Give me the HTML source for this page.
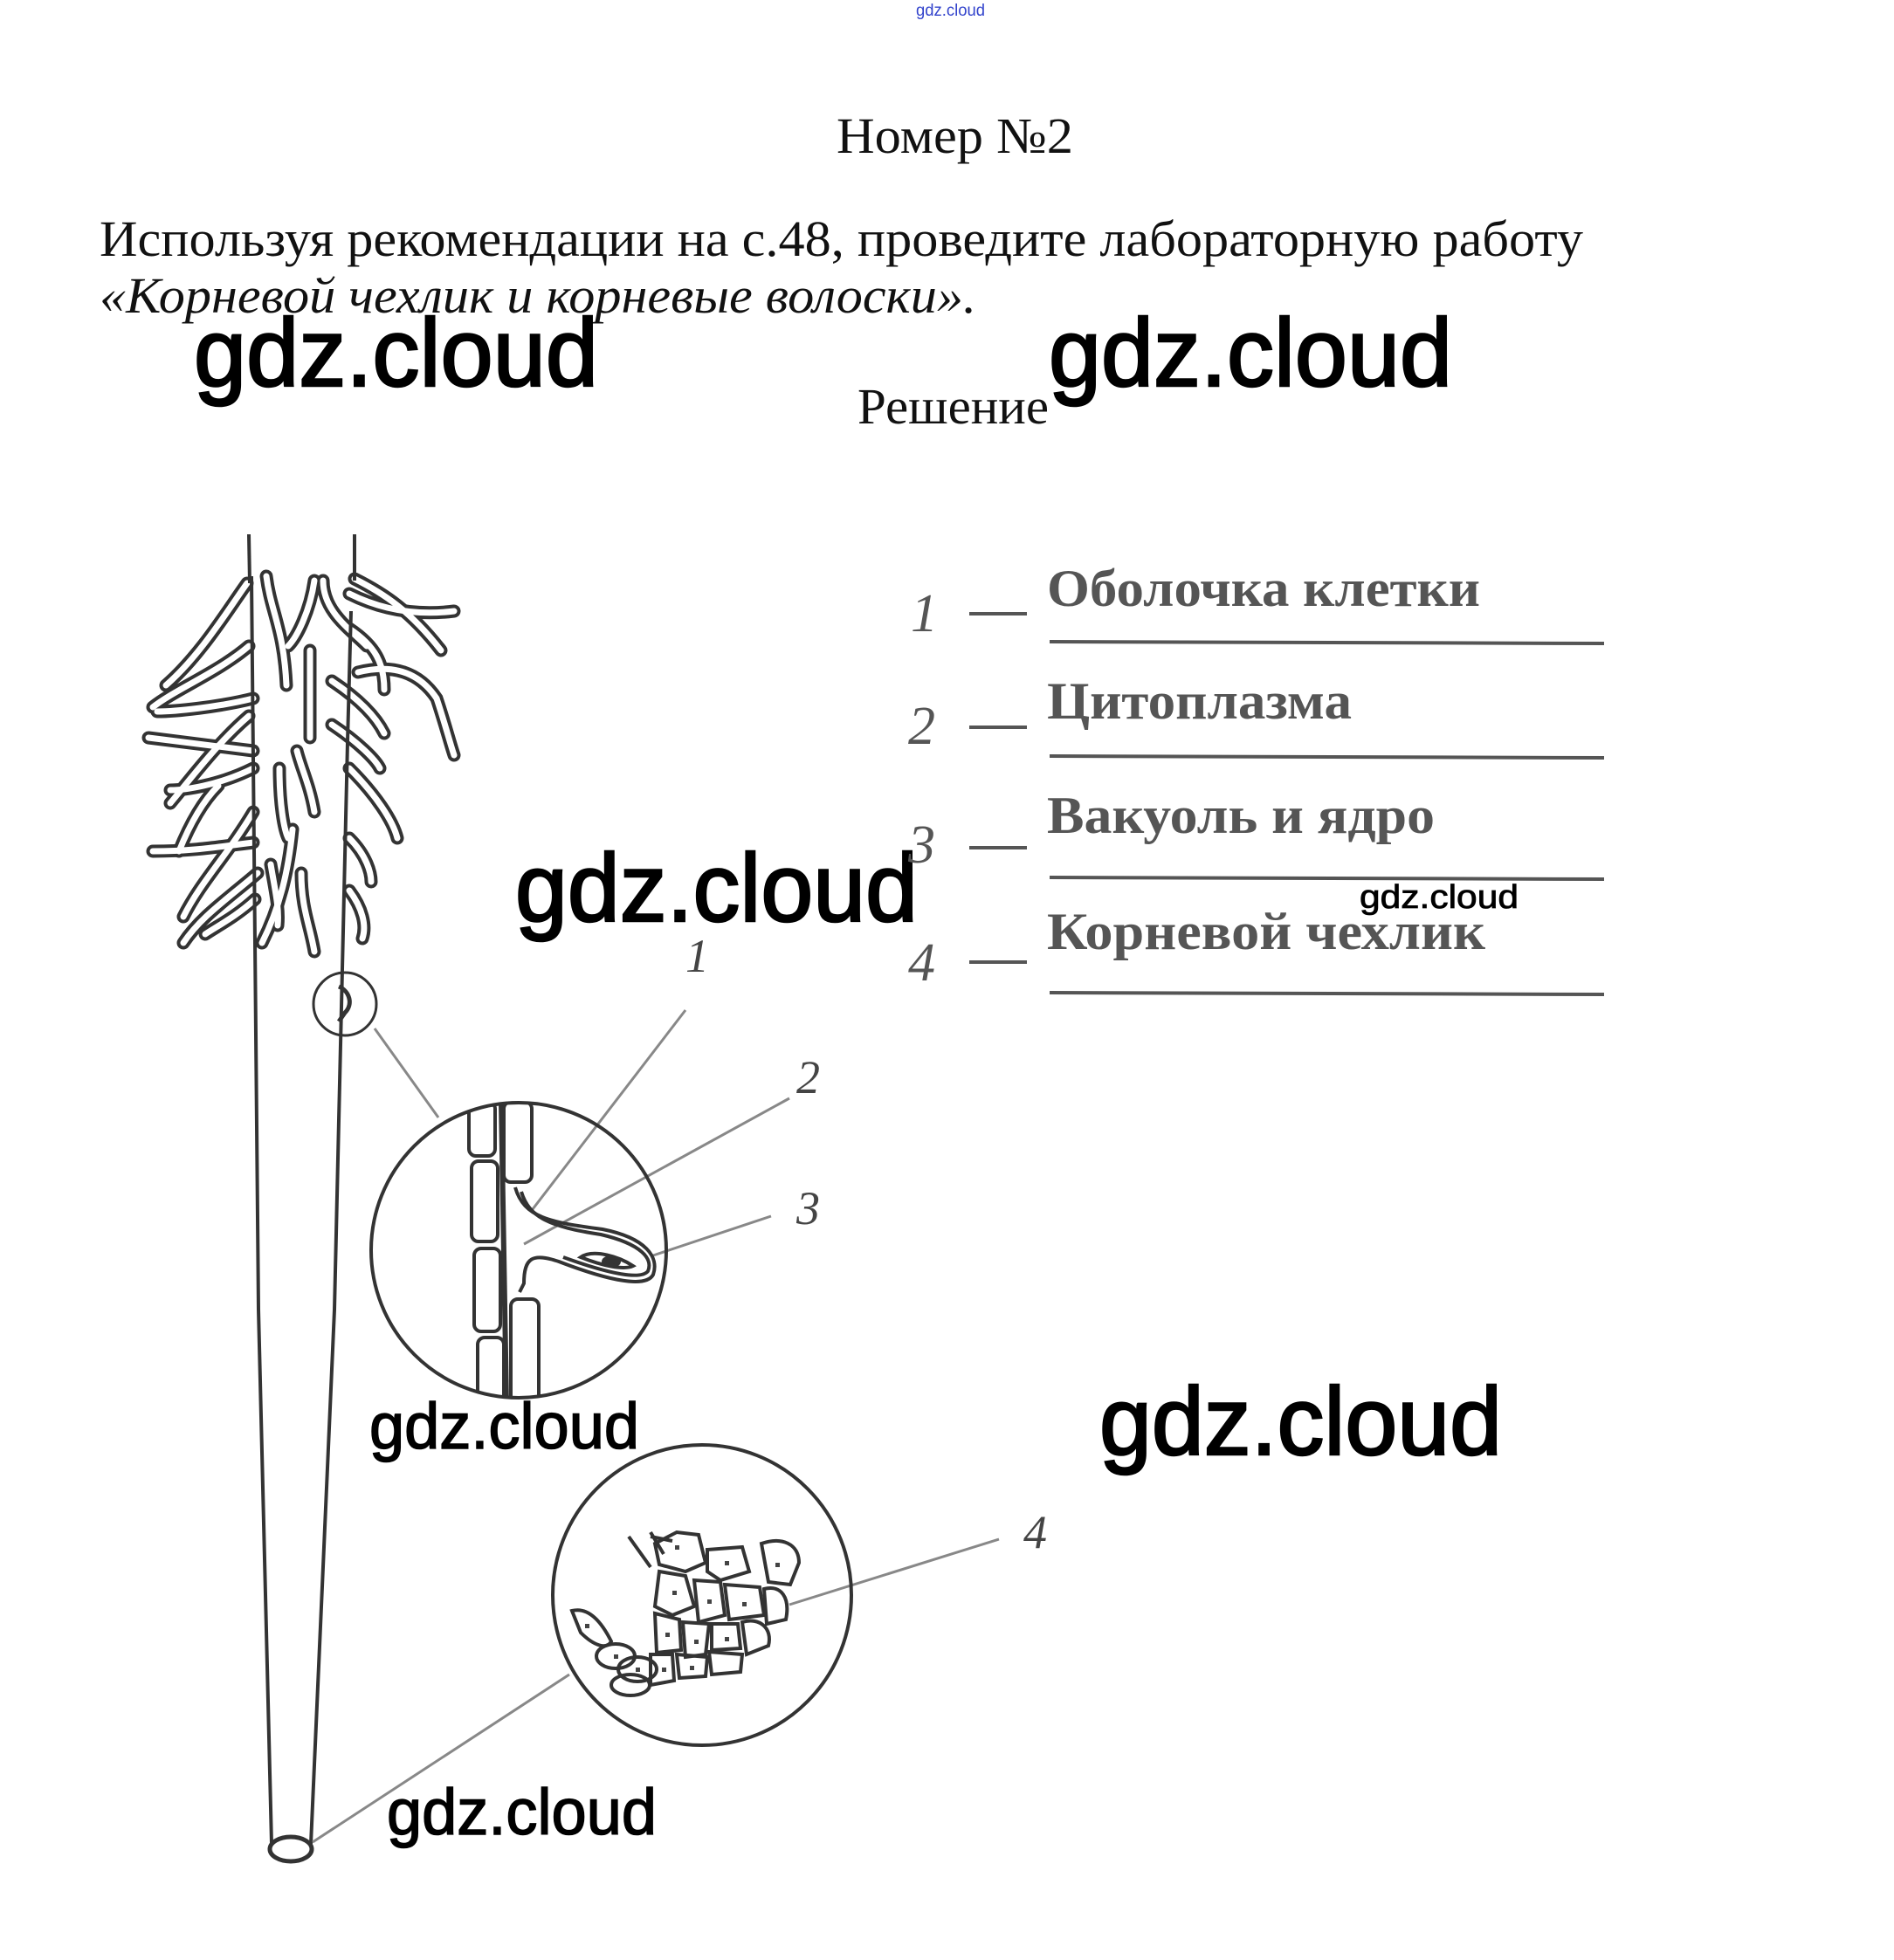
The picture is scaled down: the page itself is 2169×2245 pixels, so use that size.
<!DOCTYPE html>
<html><head><meta charset="utf-8"><style>
html,body{margin:0;padding:0;background:#fff;}
svg{display:block;}
</style></head><body>
<svg width="2169" height="2245" viewBox="0 0 2169 2245" xmlns="http://www.w3.org/2000/svg">
<rect width="2169" height="2245" fill="#fff"/>
<text x="1049" y="18" font-family="Liberation Sans, sans-serif" font-size="19" fill="#3344cc" textLength="79" lengthAdjust="spacingAndGlyphs">gdz.cloud</text>
<text x="958" y="175" font-family="Liberation Serif, serif" font-size="58" fill="#111" textLength="271" lengthAdjust="spacingAndGlyphs">Номер №2</text>
<text x="114" y="293" font-family="Liberation Serif, serif" font-size="58" fill="#111" textLength="1699" lengthAdjust="spacingAndGlyphs">Используя рекомендации на с.48, проведите лабораторную работу</text>
<text x="114" y="358" font-family="Liberation Serif, serif" font-style="italic" font-size="58" fill="#111" textLength="1004" lengthAdjust="spacingAndGlyphs">«Корневой чехлик и корневые волоски».</text>
<text x="982" y="485" font-family="Liberation Serif, serif" font-size="58" fill="#111" textLength="219" lengthAdjust="spacingAndGlyphs">Решение</text>

<g font-family="Liberation Sans, sans-serif" fill="#000" stroke="#000">
<text x="222" y="442" font-size="110" stroke-width="2.5" textLength="463" lengthAdjust="spacingAndGlyphs">gdz.cloud</text>
<text x="1201" y="442" font-size="110" stroke-width="2.5" textLength="462" lengthAdjust="spacingAndGlyphs">gdz.cloud</text>
<text x="590" y="1055" font-size="110" stroke-width="2.5" textLength="461" lengthAdjust="spacingAndGlyphs">gdz.cloud</text>
<text x="1557" y="1040" font-size="38" stroke-width="0.8" textLength="182" lengthAdjust="spacingAndGlyphs">gdz.cloud</text>
<text x="423" y="1659" font-size="74" stroke-width="1.5" textLength="309" lengthAdjust="spacingAndGlyphs">gdz.cloud</text>
<text x="1259" y="1666" font-size="110" stroke-width="2.5" textLength="461" lengthAdjust="spacingAndGlyphs">gdz.cloud</text>
<text x="443" y="2101" font-size="74" stroke-width="1.5" textLength="309" lengthAdjust="spacingAndGlyphs">gdz.cloud</text>
</g>

<g font-family="Liberation Serif, serif" fill="#555">
<text x="1199" y="694" font-size="60" font-weight="bold" textLength="496" lengthAdjust="spacingAndGlyphs">Оболочка клетки</text>
<text x="1199" y="823" font-size="60" font-weight="bold" textLength="349" lengthAdjust="spacingAndGlyphs">Цитоплазма</text>
<text x="1199" y="954" font-size="60" font-weight="bold" textLength="444" lengthAdjust="spacingAndGlyphs">Вакуоль и ядро</text>
<text x="1199" y="1087" font-size="60" font-weight="bold" textLength="502" lengthAdjust="spacingAndGlyphs">Корневой чехлик</text>
<g font-style="italic" font-size="62">
<text x="1043" y="723">1</text>
<text x="1040" y="852">2</text>
<text x="1040" y="988">3</text>
<text x="1040" y="1123">4</text>
</g>
</g>
<g stroke="#555" stroke-width="4">
<line x1="1110" y1="703" x2="1176" y2="703"/>
<line x1="1110" y1="833" x2="1176" y2="833"/>
<line x1="1110" y1="971" x2="1176" y2="971"/>
<line x1="1110" y1="1102" x2="1176" y2="1102"/>
<line x1="1202" y1="735" x2="1837" y2="737"/>
<line x1="1202" y1="866" x2="1837" y2="868"/>
<line x1="1202" y1="1005" x2="1837" y2="1007"/>
<line x1="1202" y1="1137" x2="1837" y2="1139"/>
</g>

<defs>
<g id="hp">
<path d="M283,668 C260,700 230,750 190,785"/>
<path d="M285,740 C250,770 200,790 175,810"/>
<path d="M290,800 C250,810 200,815 180,815"/>
<path d="M285,820 C250,850 220,890 195,920"/>
<path d="M170,845 C210,850 250,855 290,860"/>
<path d="M290,880 C250,900 210,905 195,905"/>
<path d="M290,930 C260,980 230,1010 210,1050"/>
<path d="M175,975 C220,975 250,970 290,965"/>
<path d="M295,1000 C260,1030 230,1050 210,1080"/>
<path d="M250,900 C230,920 215,950 205,975"/>
<path d="M292,1030 C270,1050 250,1060 235,1070"/>
<path d="M305,660 C310,700 325,720 328,785"/>
<path d="M355,745 L355,845"/>
<path d="M370,665 C370,700 400,720 420,740"/>
<path d="M360,665 C355,700 340,730 330,740"/>
<path d="M340,860 C345,880 355,900 360,930"/>
<path d="M320,880 C320,920 325,950 330,960"/>
<path d="M335,950 C330,1000 320,1040 300,1080"/>
<path d="M345,1000 C345,1040 355,1060 360,1090"/>
<path d="M310,990 C315,1020 320,1040 318,1060"/>
<path d="M406,663 C440,680 470,700 505,745"/>
<path d="M400,680 C440,700 480,705 520,700"/>
<path d="M410,770 C450,760 480,770 500,800 C510,830 515,850 520,865"/>
<path d="M400,720 C430,740 440,760 440,790"/>
<path d="M380,780 C410,800 430,820 440,840"/>
<path d="M380,830 C410,850 430,870 435,880"/>
<path d="M400,880 C430,910 450,940 455,960"/>
<path d="M400,960 C420,980 425,1000 425,1010"/>
<path d="M400,1020 C415,1040 420,1060 415,1075"/>
</g>
</defs>
<g fill="none" stroke-linecap="round">
<use href="#hp" stroke="#333" stroke-width="15"/>
<use href="#hp" stroke="#fff" stroke-width="7"/>
</g>

<g fill="none" stroke="#333" stroke-width="4">
<line x1="285" y1="612" x2="286" y2="668"/>
<line x1="406" y1="612" x2="406" y2="665"/>
<path d="M288,660 L296,1500 L311,2112"/>
<path d="M402,700 L398,850 L383,1500 L356,2112"/>
<ellipse cx="333" cy="2118" rx="24" ry="14" stroke-width="5"/>
<circle cx="395" cy="1150" r="36" stroke-width="3"/>
<path d="M388,1130 C400,1135 405,1150 395,1160 L388,1170" stroke-width="5"/>
</g>

<g stroke="#888" stroke-width="3" fill="none">
<line x1="429" y1="1178" x2="502" y2="1280"/>
<line x1="652" y1="1918" x2="358" y2="2110"/>
<line x1="785" y1="1157" x2="610" y2="1385"/>
<line x1="904" y1="1258" x2="600" y2="1425"/>
<line x1="883" y1="1393" x2="748" y2="1438"/>
<line x1="1144" y1="1763" x2="904" y2="1838"/>
</g>
<g font-family="Liberation Serif, serif" font-style="italic" font-size="54" fill="#444">
<text x="785" y="1113">1</text>
<text x="912" y="1252">2</text>
<text x="912" y="1402">3</text>
<text x="1172" y="1773">4</text>
</g>

<defs>
<clipPath id="c1"><circle cx="594" cy="1432" r="169"/></clipPath>
<clipPath id="c2"><ellipse cx="804" cy="1827" rx="171" ry="172"/></clipPath>
</defs>
<g clip-path="url(#c1)" fill="none" stroke="#333" stroke-width="4">
<rect x="537" y="1262" width="30" height="62" rx="8"/>
<rect x="540" y="1330" width="30" height="92" rx="8"/>
<rect x="543" y="1430" width="30" height="95" rx="8"/>
<rect x="547" y="1532" width="30" height="90" rx="8"/>
<rect x="577" y="1262" width="32" height="92" rx="8"/>
<rect x="585" y="1488" width="32" height="120" rx="8"/>
<line x1="574" y1="1262" x2="580" y2="1610" stroke-width="6"/>
<path d="M590,1360 C600,1395 630,1400 690,1408 C740,1418 755,1440 748,1460 C740,1475 700,1468 640,1445 C610,1435 600,1440 600,1470 L595,1480"/>
<path d="M597,1365 C606,1395 630,1405 688,1414 C735,1425 748,1442 742,1456 C734,1466 700,1460 645,1440"/>
<path d="M665,1440 C680,1430 710,1440 725,1450 C715,1455 690,1450 665,1440 Z"/>
<ellipse cx="700" cy="1445" rx="9" ry="5" fill="#333"/>
</g>
<circle cx="594" cy="1432" r="169" fill="none" stroke="#333" stroke-width="4"/>

<g clip-path="url(#c2)" fill="none" stroke="#333" stroke-width="4">
<path d="M750,1768 L775,1755 L800,1758 L808,1790 L785,1800 L755,1792 Z"/>
<path d="M810,1775 L850,1772 L858,1800 L825,1810 L810,1800 Z"/>
<path d="M872,1768 C895,1760 915,1768 915,1790 L905,1815 L880,1812 Z"/>
<path d="M755,1800 L785,1805 L795,1840 L770,1850 L750,1840 Z"/>
<path d="M795,1810 L825,1812 L830,1850 L800,1858 Z"/>
<path d="M830,1815 L870,1818 L875,1850 L835,1855 Z"/>
<path d="M875,1820 C895,1815 905,1830 900,1855 L878,1860 Z"/>
<path d="M750,1848 L778,1855 L780,1890 L752,1893 Z"/>
<path d="M782,1858 L812,1860 L808,1895 L785,1898 Z"/>
<path d="M815,1860 L845,1860 L848,1888 L815,1890 Z"/>
<path d="M850,1858 C870,1852 885,1865 880,1885 L855,1895 Z"/>
<path d="M745,1895 L770,1895 L772,1925 L745,1930 Z"/>
<path d="M775,1895 L810,1898 L808,1920 L778,1922 Z"/>
<path d="M812,1892 L850,1895 L848,1915 L815,1918 Z"/>
<path d="M655,1845 C675,1840 690,1860 700,1880 C695,1890 680,1885 665,1870 Z"/>
<ellipse cx="705" cy="1897" rx="22" ry="14"/>
<ellipse cx="730" cy="1912" rx="22" ry="14"/>
<ellipse cx="722" cy="1930" rx="22" ry="12"/>
<path d="M720,1760 L745,1795 M745,1755 L760,1780 M745,1760 L770,1765"/>
</g>
<g fill="#444">
<rect x="773" y="1770" width="5" height="5"/><rect x="830" y="1788" width="5" height="5"/>
<rect x="888" y="1790" width="5" height="5"/><rect x="770" y="1822" width="5" height="5"/>
<rect x="810" y="1832" width="5" height="5"/><rect x="850" y="1835" width="5" height="5"/>
<rect x="762" y="1870" width="5" height="5"/><rect x="795" y="1878" width="5" height="5"/>
<rect x="830" y="1875" width="5" height="5"/><rect x="758" y="1910" width="5" height="5"/>
<rect x="790" y="1908" width="5" height="5"/><rect x="703" y="1895" width="5" height="5"/>
<rect x="670" y="1860" width="5" height="5"/><rect x="728" y="1910" width="5" height="5"/>
</g>
<ellipse cx="804" cy="1827" rx="171" ry="172" fill="none" stroke="#333" stroke-width="4"/>
</svg>
</body></html>
